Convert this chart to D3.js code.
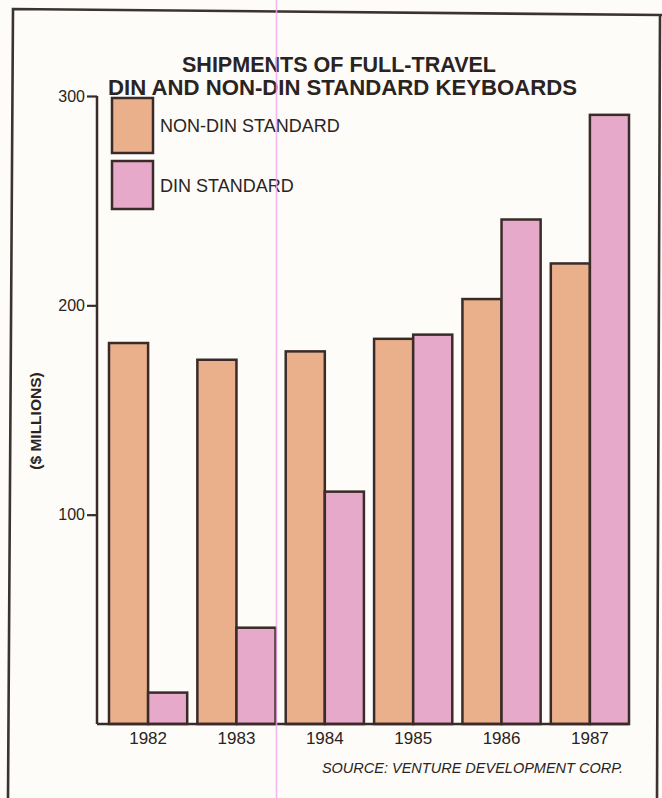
<!DOCTYPE html>
<html>
<head>
<meta charset="utf-8">
<script src="https://cdn.jsdelivr.net/npm/d3@7"></script>
<style>
  html, body { margin: 0; padding: 0; background: #fdfcf8; }
  svg { display: block; }
  text { font-family: "Liberation Sans", Arial, Helvetica, sans-serif; fill: #2a2321; }
</style>
</head>
<body>
<svg id="chart" width="662" height="798"></svg>
<script>
// ---- data ----
const years = ["1982", "1983", "1984", "1985", "1986", "1987"];
const nonDin = [182, 174, 178, 184, 203, 220];
const din = [15, 46, 111, 186, 241, 291];
const seriesNames = ["NON-DIN STANDARD", "DIN STANDARD"];
const yTicks = [100, 200, 300];
const titleLines = ["SHIPMENTS OF FULL-TRAVEL", "DIN AND NON-DIN STANDARD KEYBOARDS"];
const yTitle = "($ MILLIONS)";
const sourceText = "SOURCE: VENTURE DEVELOPMENT CORP.";

const colors = ["#eab08b", "#e7a9c9"];
const ink = "#3a2b29";

const svg = d3.select("#chart");

// background
svg.append("rect").attr("width", 662).attr("height", 798).attr("fill", "#fdfcf8");

// frame (slightly skewed as in the scan)
svg.append("path")
  .attr("d", "M8,798 L13,9 L662,15 M660,15 L657,798")
  .attr("fill", "none").attr("stroke", "#3b3331").attr("stroke-width", 2.6);

// scales
const x = d3.scaleBand().domain(years).range([109, 629]).paddingInner(0.115).paddingOuter(0);
const xs = d3.scaleBand().domain([0, 1]).range([0, x.bandwidth()]);
const y = d3.scaleLinear().domain([0, 300]).range([724, 96]);

// bars
const data = years.map((yr, i) => ({ year: yr, vals: [nonDin[i], din[i]] }));
const groups = svg.append("g").selectAll("g").data(data).join("g")
  .attr("transform", d => `translate(${x(d.year)},0)`);
groups.selectAll("rect").data(d => d.vals.map((v, k) => ({ v, k }))).join("rect")
  .attr("x", d => xs(d.k))
  .attr("width", xs.bandwidth())
  .attr("y", d => y(d.v))
  .attr("height", d => y(0) - y(d.v))
  .attr("fill", d => colors[d.k])
  .attr("stroke", ink).attr("stroke-width", 2.5);

// y axis
const yAxis = d3.axisLeft(y).tickValues(yTicks).tickSize(10).tickPadding(2).tickFormat(d3.format("d"));
const gy = svg.append("g").attr("transform", "translate(97,0)").call(yAxis)
  .attr("font-size", 16).attr("font-family", "Liberation Sans, Arial, sans-serif");
gy.select(".domain").attr("d", `M0,${y(300)}V${y(0)}`).attr("stroke", ink).attr("stroke-width", 2.5);
gy.selectAll(".tick line").attr("stroke", ink).attr("stroke-width", 2.2);
gy.selectAll(".tick text").style("font-size", "16px").attr("fill", "#2a2321");

// x axis (baseline + year labels)
const xAxis = d3.axisBottom(x).tickSize(0).tickPadding(8);
const gx = svg.append("g").attr("transform", `translate(0,${y(0)})`).call(xAxis)
  .attr("font-size", 17).attr("font-family", "Liberation Sans, Arial, sans-serif");
gx.select(".domain").attr("d", `M97,0H629`).attr("stroke", ink).attr("stroke-width", 2.5);
gx.selectAll(".tick text").style("font-size", "17px").attr("fill", "#2a2321");

// title
const titleX = [182, 108], titleW = [314, 469], titleY = [72, 95];
titleLines.forEach((t, i) => {
  svg.append("text").attr("x", titleX[i]).attr("y", titleY[i])
    .attr("font-size", 22).attr("font-weight", "bold")
    .attr("textLength", titleW[i]).attr("lengthAdjust", "spacingAndGlyphs")
    .text(t);
});

// legend
const legY = [98, 161], legH = [55, 48];
seriesNames.forEach((s, i) => {
  svg.append("rect").attr("x", 112).attr("y", legY[i]).attr("width", 41).attr("height", legH[i])
    .attr("fill", colors[i]).attr("stroke", ink).attr("stroke-width", 2.5);
  svg.append("text").attr("x", 160).attr("y", legY[i] + legH[i] / 2 + 6.5)
    .attr("font-size", 18).text(s);
});

// y-axis title
svg.append("text")
  .attr("transform", "translate(41,421) rotate(-90)")
  .attr("text-anchor", "middle")
  .attr("font-size", 15.5).attr("font-weight", "bold")
  .text(yTitle);

// source
svg.append("text").attr("x", 623).attr("y", 773).attr("text-anchor", "end")
  .attr("font-size", 14.5).attr("font-style", "italic")
  .text(sourceText);

// scan artifact: faint magenta vertical line
svg.append("line").attr("x1", 276.5).attr("x2", 276.5).attr("y1", 0).attr("y2", 798)
  .attr("stroke", "#f2a6ef").attr("stroke-width", 1.6).attr("opacity", 0.8);
</script>
</body>
</html>
